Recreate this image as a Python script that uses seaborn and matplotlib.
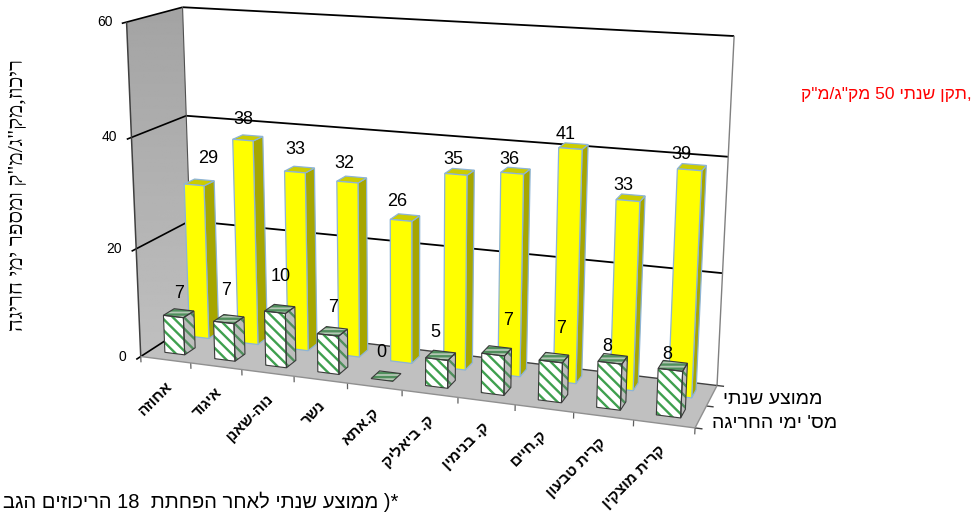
import re
import numpy as np
import pandas as pd
import matplotlib
matplotlib.use("Agg")
import matplotlib.pyplot as plt
from matplotlib.path import Path
from matplotlib.patches import PathPatch
from matplotlib.transforms import Transform
import seaborn as sns

# Data
cities = ["אחוזה", "איגוד", "נוה-שאנן", "נשר", "ק.אתא", "ק. ביאליק",
          "ק. בנימין", "ק.חיים", "קרית טבעון", "קרית מוצקין"]
annual_mean = [29, 38, 33, 32, 26, 35, 36, 41, 33, 39]
exceed_days = [7, 7, 10, 7, 0, 5, 7, 7, 8, 8]
series_names = ["ממוצע שנתי", "מס' ימי החריגה"]
value_ticks = [0, 20, 40, 60]

Y_TITLE = 'ריכוז,מק"ג/מ"ק ומספר ימי חריגה'
STANDARD_NOTE = ',תקן שנתי 50 מק"ג/מ"ק'
FOOTNOTE = "*) ממוצע שנתי לאחר הפחתת  18 הריכוזים הגב"

# Value label placement relative to each bar's top, in pixels
annual_label_offset = [(14, -26), (0, -21), (0, -23), (-3, -19), (-4, -19),
                       (-3, -15), (-3, -14), (-5, -14), (-5, -15), (-8, -15)]
days_label_offset = [(6, -23), (2, -32), (6, -36), (5, -27), (-1, -27),
                     (-1, -27), (15, -34), (10, -33), (-3, -16), (-3, -15)]


def visual(text):
    """Hebrew in display order: reversed, with digit runs kept readable."""
    return re.sub(r"\d+", lambda m: m.group()[::-1], text[::-1])


# Calibration of the box: (category, value, depth) -> canvas position
BOX_ANCHORS = [
    (0, 60, 0, 126, 22), (0, 40, 0, 131, 138), (0, 20, 0, 136, 248), (0, 0, 0, 142, 356),
    (0, 60, 1, 183, 7), (0, 40, 1, 187, 116), (0, 0, 1, 192, 323),
    (10, 60, 1, 734, 36), (10, 40, 1, 728, 157), (10, 20, 1, 723, 273), (10, 0, 1, 717, 385),
    (10, 0, 0, 695, 428), (5, 0, 0, 402, 391),
]


def fit_projection(anchors):
    rows = []
    for u, v, w, x, y in anchors:
        p = [u, v, w, 1.0]
        rows.append(p + [0, 0, 0, 0] + [-x * c for c in p])
        rows.append([0, 0, 0, 0] + p + [-y * c for c in p])
    _, _, vt = np.linalg.svd(np.array(rows, float))
    return vt[-1].reshape(3, 4)


PROJ = fit_projection(BOX_ANCHORS)


def project(u, v, w):
    h = PROJ @ np.array([u, v, w, 1.0])
    return h[0] / h[2], h[1] / h[2]


class DepthPlane(Transform):
    """Maps (category, value) on a plane of constant depth onto the canvas."""
    input_dims = 2
    output_dims = 2
    has_inverse = False
    is_separable = False

    def __init__(self, plane_depth):
        super().__init__()
        self.plane_depth = plane_depth

    def transform_non_affine(self, values):
        values = np.asarray(values, float)
        pts = np.column_stack([values[:, 0], values[:, 1],
                               np.full(len(values), self.plane_depth), np.ones(len(values))])
        h = pts @ PROJ.T
        return h[:, :2] / h[:, 2:3]


sns.set_theme(style="white")
plt.rcParams["font.family"] = ["Liberation Sans", "DejaVu Sans"]
plt.rcParams["hatch.linewidth"] = 1.7

slots = np.arange(len(cities)) + 0.5
frame = pd.DataFrame({"slot": slots, "city": cities,
                      "annual": annual_mean, "days": exceed_days})

fig = plt.figure(figsize=(9.78, 5.12), dpi=100)
ax = fig.add_axes([0, 0, 1, 1])

BAR_WIDTH = 0.4
HALF = BAR_WIDTH / 2
YELLOW_DEPTH = (0.64, 0.84)
GREEN_DEPTH = (0.17, 0.37)
STRIPES = "\\\\\\"


def face(points, **kw):
    xy = [project(*p) for p in points]
    ax.fill([a for a, _ in xy], [b for _, b in xy], **kw)


def edge(a, b, color="black", lw=1.2, z=1):
    p, q = project(*a), project(*b)
    ax.plot([p[0], q[0]], [p[1], q[1]], color=color, lw=lw, zorder=z,
            solid_capstyle="butt")


# Front faces come from seaborn; each one is then placed on its depth plane
sns.barplot(data=frame, x="slot", y="annual", native_scale=True, width=BAR_WIDTH,
            color="#FFFF00", saturation=1, ax=ax)
yellow_bars = list(ax.containers[0])
sns.barplot(data=frame, x="slot", y="days", native_scale=True, width=BAR_WIDTH,
            color="#FFFFFF", saturation=1, ax=ax)
green_bars = list(ax.containers[1])

# Walls and floor
wall = [(0, 60, 0), (0, 60, 1), (0, 0, 1), (0, 0, 0)]
wall_xy = np.array([project(*p) for p in wall])
shade = np.linspace(0.64, 0.75, 256).reshape(-1, 1)
img = ax.imshow(shade, cmap="gray", vmin=0, vmax=1, aspect="auto",
                extent=(wall_xy[:, 0].min(), wall_xy[:, 0].max(),
                        wall_xy[:, 1].max(), wall_xy[:, 1].min()), zorder=0.5)
img.set_clip_path(PathPatch(Path(np.vstack([wall_xy, wall_xy[0]]), closed=True),
                            transform=ax.transData))
face([(0, 0, 0), (0, 0, 1), (10, 0, 1), (10, 0, 0)], color="#C0C0C0", lw=0, zorder=1)

for v in value_ticks:
    if v > 0:
        edge((0, v, 1), (10, v, 1), lw=1.3)
    edge((0, v, -0.08), (0, v, 1), lw=1.2)
edge((0, 0, 1), (10, 0, 1), color="#404040", lw=1.0, z=1.5)
edge((0, 0, 0), (0, 60, 0), color="#404040", lw=1.1)
edge((0, 0, 1), (0, 60, 1), color="#505050", lw=0.8)
edge((10, 0, 1), (10, 60, 1), color="#808080", lw=1.0)
edge((0, 0, 0), (10, 0, 0), color="#909090", lw=1.0, z=1.5)
edge((10, 0, 0), (10, 0, 1), color="#909090", lw=1.0, z=1.5)
for i in range(len(cities) + 1):
    edge((i, 0, 0), (i, -1.1, 0), color="#606060", lw=0.9)
for w in (0, 0.5, 1):
    edge((10, 0, w), (10.12, 0, w), color="#404040", lw=1.0)

# Yellow row
BLUE_EDGE = "#8DB4D6"
d0, d1 = YELLOW_DEPTH
for i, (patch, s, v) in enumerate(zip(yellow_bars, slots, annual_mean)):
    z = 2 + i * 0.01
    patch.set_transform(DepthPlane(d0) + ax.transData)
    patch.set_edgecolor(BLUE_EDGE)
    patch.set_linewidth(0.9)
    patch.set_zorder(z + 0.002)
    face([(s + HALF, 0, d0), (s + HALF, 0, d1), (s + HALF, v, d1), (s + HALF, v, d0)],
         facecolor="#A6A600", edgecolor=BLUE_EDGE, lw=0.9, zorder=z)
    face([(s - HALF, v, d0), (s - HALF, v, d1), (s + HALF, v, d1), (s + HALF, v, d0)],
         facecolor="#CCCC00", edgecolor=BLUE_EDGE, lw=0.9, zorder=z + 0.001)

# Hatched row
GREEN = "#3FA04F"
OUTLINE = "#3A3A3A"
d0, d1 = GREEN_DEPTH
for i, (patch, s, v) in enumerate(zip(green_bars, slots, exceed_days)):
    z = 3 + i * 0.01
    patch.set_transform(DepthPlane(d0) + ax.transData)
    patch.set_facecolor("white")
    patch.set_edgecolor(GREEN)
    patch.set_linewidth(0)
    patch.set_hatch(STRIPES)
    patch.set_zorder(z + 0.002)
    side = [(s + HALF, 0, d0), (s + HALF, 0, d1), (s + HALF, v, d1), (s + HALF, v, d0)]
    top = [(s - HALF, v, d0), (s - HALF, v, d1), (s + HALF, v, d1), (s + HALF, v, d0)]
    front = [(s - HALF, 0, d0), (s + HALF, 0, d0), (s + HALF, v, d0), (s - HALF, v, d0)]
    if v > 0:
        face(side, facecolor="#BDBDBD", edgecolor="#4F8F5C", hatch=STRIPES, lw=0, zorder=z)
        face(side, facecolor="none", edgecolor=OUTLINE, lw=0.8, zorder=z + 0.004)
        face(front, facecolor="none", edgecolor=OUTLINE, lw=0.8, zorder=z + 0.004)
    face(top, facecolor="#B4C6B4", edgecolor="#4F8F5C", hatch="----", lw=0, zorder=z + 0.003)
    face(top, facecolor="none", edgecolor=OUTLINE, lw=0.8, zorder=z + 0.004)

# Text
for v in value_ticks:
    x, y = project(0, v, 0)
    ax.text(x - 14, y, str(v), ha="right", va="center", fontsize=10, color="black", zorder=6)

for i, (s, name) in enumerate(zip(slots, cities)):
    x, y = project(s, 0, 0)
    ax.text(x - 0.67 * i, y + 19, visual(name), rotation=45, rotation_mode="anchor",
            ha="right", va="top", fontsize=11, fontweight="bold", color="black", zorder=6)

for s, v, (dx, dy) in zip(slots, annual_mean, annual_label_offset):
    x, y = project(s, v, YELLOW_DEPTH[0])
    ax.text(x + dx, y + dy, str(v), ha="center", va="center", fontsize=13,
            color="black", zorder=6)
for s, v, (dx, dy) in zip(slots, exceed_days, days_label_offset):
    x, y = project(s, v, GREEN_DEPTH[0])
    ax.text(x + dx, y + dy, str(v), ha="center", va="center", fontsize=13,
            color="black", zorder=6)

ax.text(773, 400, visual(series_names[0]), ha="center", va="center", fontsize=14, color="black")
ax.text(775, 423, visual(series_names[1]), ha="center", va="center", fontsize=14, color="black")
ax.text(19, 195, visual(Y_TITLE), rotation=90, ha="center", va="center", fontsize=16,
        fontfamily="Liberation Serif", color="black")
ax.text(972, 95, visual(STANDARD_NOTE), ha="right", va="center", fontsize=12.5, color="#FF0000")
ax.text(398, 502, visual(FOOTNOTE), ha="right", va="center", fontsize=14.5, color="black")

ax.set_xlim(0, 978)
ax.set_ylim(512, 0)
ax.set_axis_off()

fig.savefig("out.png", dpi=100, facecolor="white")
